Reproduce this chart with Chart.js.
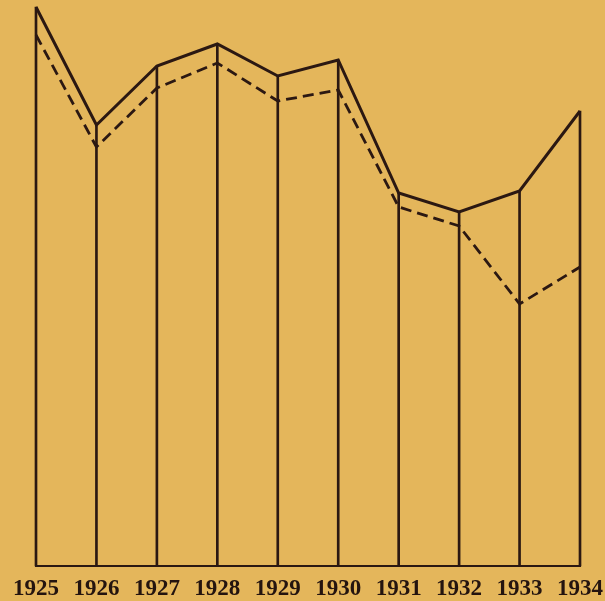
<!DOCTYPE html>
<html>
<head>
<meta charset="utf-8">
<script src="https://cdn.jsdelivr.net/npm/chart.js@4"></script>
<style>
  html, body { margin: 0; padding: 0; background: #e4b65b; }
  canvas { display: block; }
</style>
</head>
<body>
<canvas id="chart" width="605" height="601"></canvas>
<script>
// years along the bottom
const years = ["1925", "1926", "1927", "1928", "1929", "1930", "1931", "1932", "1933", "1934"];
// upper (solid) line
const solidValues = [559, 441, 500, 522, 490, 506, 373, 354, 375, 455];
// lower (dashed) line
const dashedValues = [531, 419, 478, 503, 465, 476, 359, 340, 262, 299];

const ink = "#2b1812";

const ctx = document.getElementById("chart").getContext("2d");
new Chart(ctx, {
  data: {
    labels: years,
    datasets: [
      {
        type: "line",
        label: "solid",
        data: solidValues,
        borderColor: ink,
        borderWidth: 3,
        pointRadius: 0,
        tension: 0,
        fill: false,
        clip: false,
        order: 1,
      },
      {
        type: "line",
        label: "dashed",
        data: dashedValues,
        borderColor: ink,
        borderWidth: 2.8,
        borderDash: [11, 6],
        pointRadius: 0,
        tension: 0,
        fill: false,
        clip: false,
        order: 2,
      },
      // vertical drop lines from the solid line to the base
      {
        type: "bar",
        label: "verticals",
        data: solidValues,
        backgroundColor: ink,
        barThickness: 2,
        clip: false,
        order: 3,
      },
    ],
  },
  options: {
    responsive: false,
    animation: false,
    layout: {
      padding: { left: 36, right: 25, top: 0, bottom: 1 },
    },
    plugins: {
      legend: { display: false },
      tooltip: { enabled: false },
    },
    scales: {
      x: {
        offset: false,
        grid: { display: false, drawTicks: false },
        border: { display: true, color: ink, width: 2 },
        ticks: {
          color: "#24140f",
          padding: 12,
          maxRotation: 0,
          autoSkip: false,
          font: { family: "'Liberation Serif', serif", weight: "bold", size: 23, lineHeight: 1 },
        },
        // keep the plot edges where the first and last years sit
        afterFit: (scale) => {
          scale.paddingLeft = 0;
          scale.paddingRight = 0;
          scale.height = 34;
        },
      },
      y: {
        display: false,
        min: 0,
        max: 566,
      },
    },
  },
});
</script>
</body>
</html>
